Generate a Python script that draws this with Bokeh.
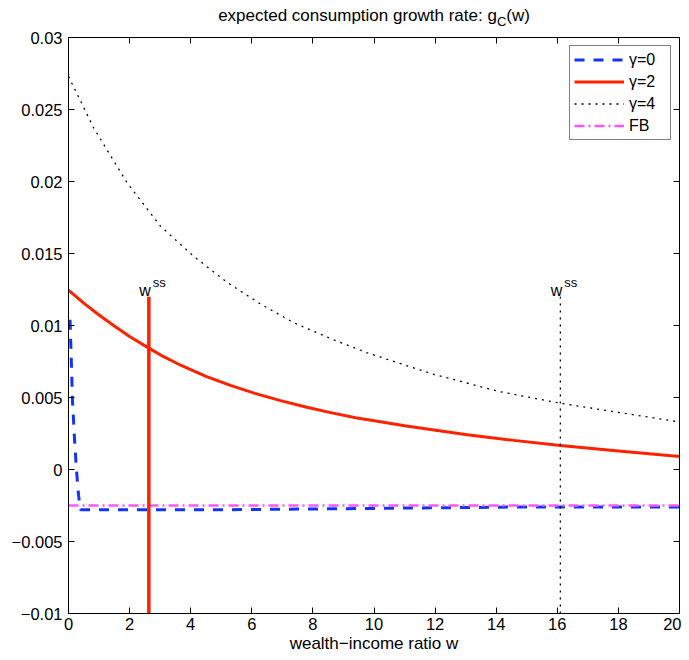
import numpy as np
from bokeh.plotting import figure
from bokeh.layouts import column
from bokeh.models import (Range1d, LinearAxis, FixedTicker, CustomJSTickFormatter,
                          Label, Legend, LegendItem)
from bokeh.core.properties import value
from bokeh.embed import file_html
from bokeh.resources import INLINE

# ---------------- data ----------------
x_ticks = [0, 2, 4, 6, 8, 10, 12, 14, 16, 18, 20]
y_ticks = [-0.01, -0.005, 0.0, 0.005, 0.01, 0.015, 0.02, 0.025, 0.03]

# gamma = 0 (blue dashed)
g0_w = [0.05, 0.1, 0.13, 0.2, 0.26, 0.33, 0.39, 1.0, 5.0, 10.0, 15.0, 20.0]
g0_g = [0.0104, 0.0070, 0.0048, 0.0020, 0.0, -0.0018, -0.0028, -0.0028,
        -0.0028, -0.0027, -0.0026, -0.0026]

# gamma = 2 (red solid)
g2_w = [0, 0.5, 1, 1.5, 2, 2.63, 3.1, 3.67, 4.5, 5.3, 6.1, 6.94, 7.8, 8.58,
        9.4, 10.21, 11.0, 11.85, 13.05, 14.5, 16.1, 18.0, 20.0]
g2_g = [0.01245, 0.01155, 0.01073, 0.00996, 0.00924, 0.00843, 0.00785, 0.00724,
        0.00647, 0.00584, 0.00529, 0.00478, 0.00432, 0.00395, 0.00360, 0.00331,
        0.00304, 0.00278, 0.00242, 0.00204, 0.00167, 0.00128, 0.00090]

# gamma = 4 (black dotted)
g4_w = [0, 0.83, 1.92, 3.01, 4.1, 5.19, 6.28, 7.37, 8.68, 9.78, 11.96, 14.14,
        16.1, 18.5, 20.0]
g4_g = [0.0273, 0.0237, 0.0199, 0.0169, 0.0148, 0.0130, 0.0115, 0.0102,
        0.0090, 0.0081, 0.0066, 0.0054, 0.0046, 0.0038, 0.0033]

# first best (magenta dash-dot)
fb_w = [0, 20]
fb_g = [-0.0025, -0.0025]

# steady states
wss_g2 = 2.63
wss_g4 = 16.1
vline_top = 0.012
vline_bottom = -0.01

title_main = "expected consumption growth rate: g"
title_sub = "C"
title_tail = "(w)"

FONT = "Liberation Sans"
RED = "#ff2200"
BLUE = "#1133ff"
MAGENTA = "#ff55ff"

W = 681
FRAME_L, FRAME_R = 68, 679
TITLE_H = 27

# ---------------- title strip ----------------
tf = figure(width=W, height=TITLE_H, output_backend="svg", toolbar_location=None,
            title=None,
            x_range=Range1d(0, W), y_range=Range1d(0, TITLE_H),
            x_axis_location=None, y_axis_location=None,
            min_border_left=0, min_border_right=0, min_border_top=0,
            min_border_bottom=0)
tf.frame_align = False
for g in tf.grid:
    g.visible = False
tf.outline_line_color = None

main_px, sub_px, tail_px = 17, 13, 17
w_main = 16.397 * main_px
w_sub = 0.722 * sub_px
w_tail = 1.388 * tail_px
x0 = (FRAME_L + FRAME_R) / 2 - (w_main + w_sub + w_tail) / 2
base = 12
tf.text(x=[x0], y=[base], text=[title_main], text_font=value(FONT),
        text_font_size="17px", text_align="left", text_baseline="alphabetic",
        text_color="black")
tf.text(x=[x0 + w_main], y=[base - 5.5], text=[title_sub], text_font=value(FONT),
        text_font_size="13px", text_align="left", text_baseline="alphabetic",
        text_color="black")
tf.text(x=[x0 + w_main + w_sub], y=[base], text=[title_tail], text_font=value(FONT),
        text_font_size="17px", text_align="left", text_baseline="alphabetic",
        text_color="black")

# ---------------- main plot ----------------
p = figure(width=W, height=658 - TITLE_H, output_backend="svg", toolbar_location=None,
           x_range=Range1d(0, 20), y_range=Range1d(-0.01, 0.03),
           x_axis_location=None, y_axis_location=None,
           min_border_left=FRAME_L, min_border_right=W - FRAME_R, min_border_top=10,
           min_border_bottom=45)
p.frame_align = False
for g in p.grid:
    g.visible = False
p.outline_line_color = "black"
p.outline_line_width = 1
p.background_fill_color = "white"

yfmt = CustomJSTickFormatter(code=r"""
let s = tick.toFixed(3);
s = s.replace(/0+$/, '').replace(/\.$/, '');
if (s == '-0') { s = '0'; }
return s.replace('-', '\u2212');
""")
blankfmt = CustomJSTickFormatter(code="return '';")


def style_axis(ax, labels=True):
    ax.axis_line_color = "black"
    ax.axis_line_width = 1
    ax.major_tick_line_color = "black"
    ax.major_tick_in = 6
    ax.major_tick_out = 0
    ax.minor_tick_line_color = None
    ax.major_label_text_font = FONT
    ax.major_label_text_color = "black"
    ax.major_label_text_font_size = "16.5px"
    if not labels:
        ax.formatter = blankfmt
        ax.major_label_standoff = 0


bottom = LinearAxis(ticker=FixedTicker(ticks=x_ticks), axis_label="wealth\u2212income ratio w")
style_axis(bottom)
bottom.major_label_standoff = 4
bottom.axis_label_standoff = 1
bottom.axis_label_text_font = FONT
bottom.axis_label_text_font_size = "17px"
bottom.axis_label_text_font_style = "normal"
bottom.axis_label_text_color = "black"
p.add_layout(bottom, "below")

left = LinearAxis(ticker=FixedTicker(ticks=y_ticks), formatter=yfmt)
style_axis(left)
left.major_label_standoff = 6
p.add_layout(left, "left")

top = LinearAxis(ticker=FixedTicker(ticks=x_ticks))
style_axis(top, labels=False)
p.add_layout(top, "above")

right = LinearAxis(ticker=FixedTicker(ticks=y_ticks))
style_axis(right, labels=False)
p.add_layout(right, "right")

# curves
r0 = p.line(g0_w, g0_g, line_color=BLUE, line_width=3, line_dash="10 9")
r2 = p.line(g2_w, g2_g, line_color=RED, line_width=3, line_join="round")
r4 = p.line(g4_w, g4_g, line_color="black", line_width=1.3, line_dash="2 5")
rfb = p.line(fb_w, fb_g, line_color=MAGENTA, line_width=2.5, line_dash="10 4 2 4")

# steady-state vertical lines
p.line([wss_g2, wss_g2], [vline_bottom, vline_top], line_color=RED, line_width=3.5)
p.line([wss_g4, wss_g4], [vline_bottom, vline_top], line_color="black", line_width=1.3,
       line_dash="2 5")

for xs in (wss_g2, wss_g4):
    p.add_layout(Label(x=xs, y=vline_top, x_offset=2, y_offset=6, text="w",
                       text_font=FONT, text_font_size="16px", text_align="right",
                       text_baseline="alphabetic", text_color="black"))
    p.add_layout(Label(x=xs, y=vline_top, x_offset=4, y_offset=14, text="ss",
                       text_font=FONT, text_font_size="13px", text_align="left",
                       text_baseline="alphabetic", text_color="black"))

legend = Legend(items=[LegendItem(label="\u03b3=0", renderers=[r0]),
                       LegendItem(label="\u03b3=2", renderers=[r2]),
                       LegendItem(label="\u03b3=4", renderers=[r4]),
                       LegendItem(label="FB", renderers=[rfb])],
                location="top_right")
legend.margin = 8
legend.padding = 4
legend.spacing = 3
legend.glyph_width = 50
legend.glyph_height = 19
legend.label_height = 19
legend.label_width = 37
legend.label_standoff = 5
legend.label_text_font = FONT
legend.label_text_font_size = "16px"
legend.label_text_color = "black"
legend.border_line_color = "black"
legend.border_line_width = 1
legend.background_fill_color = "white"
legend.background_fill_alpha = 1.0
p.add_layout(legend, "center")

layout = column(tf, p, spacing=0)
open("out.html", "w").write(file_html(layout, INLINE))
